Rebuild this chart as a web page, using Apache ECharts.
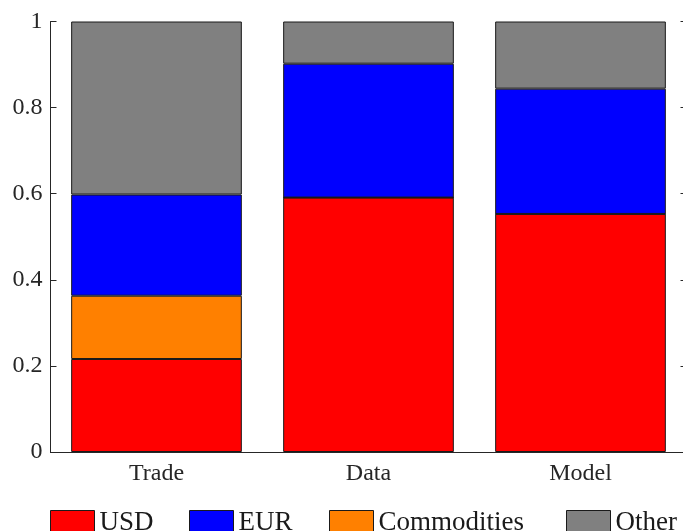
<!DOCTYPE html>
<html>
<head>
<meta charset="utf-8">
<script src="https://cdn.jsdelivr.net/npm/echarts@6/dist/echarts.min.js"></script>
<style>html,body{margin:0;padding:0;background:#fff;}#c{width:683px;height:531px;}</style>
</head>
<body>
<div id="c"></div>
<script>
const categories = ['Trade', 'Data', 'Model'];
const usd = [0.216, 0.591, 0.553];
const commodities = [0.147, 0, 0];
const eur = [0.235, 0.311, 0.291];
const other = [0.402, 0.098, 0.156];
const yTicks = [0, 0.2, 0.4, 0.6, 0.8, 1];

const FONT = 'Liberation Serif';
const chart = echarts.init(document.getElementById('c'));

function bar(name, data, color) {
  return {
    name: name, type: 'bar', stack: 'total', data: data, barWidth: '80.5%',
    itemStyle: { color: color, borderColor: '#1a1a1a', borderWidth: 1 },
    emphasis: { disabled: true }
  };
}
function leg(name, left) {
  return {
    data: [name], left: left, top: 509, itemWidth: 44, itemHeight: 24, itemGap: 0,
    icon: 'rect', padding: 0,
    itemStyle: { borderColor: '#1a1a1a', borderWidth: 1 },
    textStyle: { fontFamily: FONT, fontSize: 27, color: '#1a1a1a', padding: [0, 0, 0, 0] }
  };
}

chart.setOption({
  animation: false,
  grid: { left: 50.5, width: 636, top: 21.5, bottom: 79, containLabel: false, outerBoundsMode: 'none' },
  legend: [leg('USD', 50), leg('EUR', 189), leg('Commodities', 329), leg('Other', 566)],
  xAxis: [
    {
      type: 'category', data: categories, position: 'bottom', z: 10,
      axisLine: { lineStyle: { color: '#262626', width: 1 } },
      axisTick: { inside: true, alignWithLabel: true, length: 6, lineStyle: { color: '#262626' } },
      axisLabel: { fontFamily: FONT, fontSize: 24, color: '#262626', margin: 10 }
    },
    {
      type: 'category', data: categories, position: 'top', z: 10,
      axisLine: { lineStyle: { color: '#262626', width: 1 } },
      axisTick: { inside: true, alignWithLabel: true, length: 6, lineStyle: { color: '#262626' } },
      axisLabel: { show: false }
    }
  ],
  yAxis: [
    {
      type: 'value', min: 0, max: 1, interval: 0.2, z: 10,
      axisLine: { show: true, lineStyle: { color: '#262626', width: 1 } },
      axisTick: { show: true, inside: true, length: 6, lineStyle: { color: '#262626' } },
      splitLine: { show: false },
      axisLabel: { fontFamily: FONT, fontSize: 24, color: '#262626', margin: 8,
        formatter: function (v) { return String(yTicks.find(t => Math.abs(t - v) < 1e-9) ?? v); } }
    },
    {
      type: 'value', min: 0, max: 1, interval: 0.2, position: 'right', z: 10,
      axisLine: { show: true, lineStyle: { color: '#262626', width: 1 } },
      axisTick: { show: true, inside: true, length: 6, lineStyle: { color: '#262626' } },
      splitLine: { show: false }, axisLabel: { show: false }
    }
  ],
  series: [
    bar('USD', usd, '#ff0000'),
    bar('Commodities', commodities, '#ff8000'),
    bar('EUR', eur, '#0000ff'),
    bar('Other', other, '#808080')
  ]
});
</script>
</body>
</html>
